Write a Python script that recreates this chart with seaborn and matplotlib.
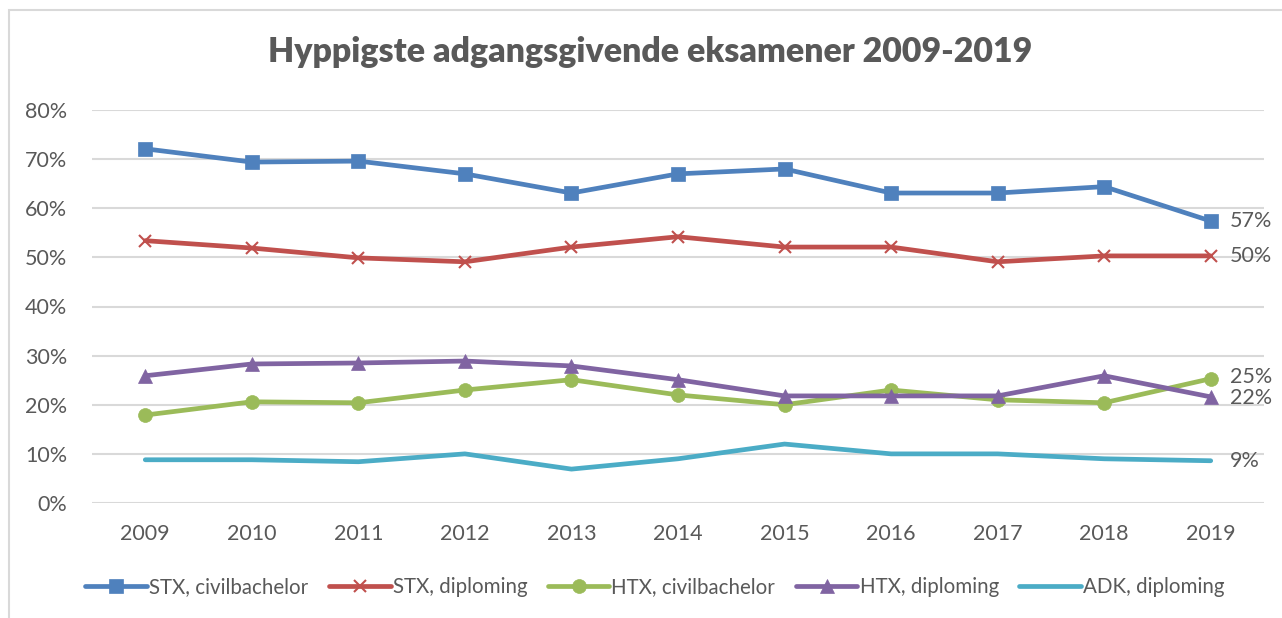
import matplotlib
matplotlib.use("Agg")
import matplotlib.pyplot as plt
import seaborn as sns
import pandas as pd
from matplotlib.patches import Rectangle
from matplotlib.ticker import PercentFormatter

years = [2009, 2010, 2011, 2012, 2013, 2014, 2015, 2016, 2017, 2018, 2019]
stx_civil = [72.1, 69.4, 69.6, 67.0, 63.1, 67.0, 68.0, 63.1, 63.1, 64.4, 57.4]
stx_dipl = [53.4, 51.9, 49.9, 49.1, 52.1, 54.2, 52.1, 52.1, 49.1, 50.3, 50.3]
htx_civil = [17.9, 20.6, 20.4, 23.0, 25.1, 22.0, 20.0, 23.0, 21.0, 20.4, 25.3]
htx_dipl = [25.9, 28.3, 28.5, 28.9, 27.9, 25.1, 21.8, 21.8, 21.8, 25.9, 21.6]
adk_dipl = [8.8, 8.8, 8.4, 10.0, 6.9, 9.0, 12.0, 10.0, 10.0, 9.0, 8.6]

series_names = ["STX, civilbachelor", "STX, diploming", "HTX, civilbachelor",
                "HTX, diploming", "ADK, diploming"]
series_values = [stx_civil, stx_dipl, htx_civil, htx_dipl, adk_dipl]
end_labels = ["57%", "50%", "25%", "22%", "9%"]
title = "Hyppigste adgangsgivende eksamener 2009-2019"

colors = ["#4F81BD", "#C0504D", "#9BBB59", "#8064A2", "#4BACC6"]
markers = ["s", "x", "o", "^", None]
msizes = [10, 9, 10, 10, 0]
text_col = "#595959"

sns.set_theme(style="white")
plt.rcParams["font.family"] = ["Lato", "DejaVu Sans"]

fig = plt.figure(figsize=(12.82, 6.18), dpi=100)
ax = fig.add_axes([92 / 1282, 1 - 503 / 618, (1264 - 92) / 1282, (503 - 110) / 618])

# chart border (cropped at right and bottom)
fig.patches.append(Rectangle((9 / 1282, -0.1), 1.2, 1 - 10 / 618 + 0.1,
                             transform=fig.transFigure, fill=False,
                             edgecolor="#D9D9D9", linewidth=1.5, zorder=0))

handles = []
for name, vals, c, m, ms in zip(series_names, series_values, colors, markers, msizes):
    df = pd.DataFrame({"year": years, "value": vals})
    sns.lineplot(data=df, x="year", y="value", ax=ax, color=c, linewidth=3.4,
                 marker=m, markersize=ms, markeredgecolor=c,
                 markeredgewidth=1.5 if m == "x" else 0.5, label=name,
                 solid_capstyle="round", legend=False)
    handles.append(ax.lines[-1])

label_offsets = [0, 0, 1, -1, 0]
for vals, lab, off in zip(series_values, end_labels, label_offsets):
    ax.annotate(lab, (years[-1], vals[-1]), xytext=(14, off), textcoords="offset points",
                ha="left", va="center", fontsize=15.5, color=text_col, annotation_clip=False)

ax.set_xlim(years[0] - 0.5, years[-1] + 0.5)
ax.set_ylim(0, 80)
ax.set_yticks(range(0, 81, 10))
ax.yaxis.set_major_formatter(PercentFormatter(decimals=0))
ax.set_xticks(years)
ax.grid(axis="y", color="#D9D9D9", linewidth=1.5)
ax.grid(axis="x", visible=False)
for s in ax.spines.values():
    s.set_visible(False)
ax.tick_params(axis="both", length=0, labelsize=15.5, labelcolor=text_col)
ax.tick_params(axis="y", pad=18)
ax.tick_params(axis="x", pad=15)
ax.set_xlabel("")
ax.set_ylabel("")

fig.text(650 / 1282, 1 - 52 / 618, title, ha="center", va="center", fontsize=24.4,
         fontweight="heavy", color=text_col)

fig.legend(handles=handles, labels=series_names, loc="center", ncol=5,
           bbox_to_anchor=(655 / 1282, 1 - 587 / 618), frameon=False,
           fontsize=14.8, labelcolor=text_col, handlelength=3.0,
           handletextpad=0.1, columnspacing=1.0)

fig.savefig("out.png", dpi=100)
